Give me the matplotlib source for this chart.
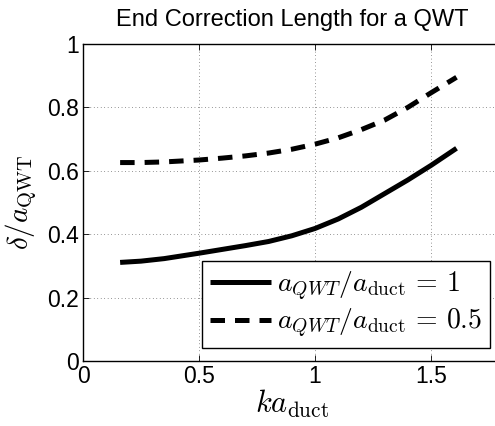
import matplotlib
matplotlib.use("Agg")
import matplotlib.pyplot as plt

# values
ka = [0.16, 0.25, 0.35, 0.5, 0.6, 0.7, 0.8, 0.9, 1.0, 1.1, 1.2, 1.3, 1.4, 1.5, 1.61]
ratio_1 = [0.311, 0.315, 0.323, 0.340, 0.352, 0.364, 0.377, 0.395, 0.418, 0.448,
           0.485, 0.528, 0.571, 0.617, 0.671]
ratio_05 = [0.626, 0.626, 0.628, 0.634, 0.640, 0.647, 0.656, 0.668, 0.684, 0.704,
            0.730, 0.760, 0.800, 0.846, 0.895]

labels = [r"$a_{QWT}/a_{\mathrm{duct}}\,=\,1$", r"$a_{QWT}/a_{\mathrm{duct}}\,=\,0.5$"]
xticks = [0, 0.5, 1, 1.5]
yticks = [0, 0.2, 0.4, 0.6, 0.8, 1]

plt.rcParams["font.family"] = ["Liberation Sans", "DejaVu Sans"]
plt.rcParams["mathtext.fontset"] = "cm"

fig = plt.figure(figsize=(4.95, 4.26), dpi=100)
ax = fig.add_axes([83 / 495, 65 / 426, 417.6 / 495, 317 / 426])

ax.plot(ka, ratio_1, color="black", lw=3.6, solid_capstyle="butt", label=labels[0])
ax.plot(ka, ratio_05, color="black", lw=3.6, dashes=(2.9, 2.0), dash_capstyle="butt", label=labels[1])

ax.set_xlim(0, 1.8)
ax.set_ylim(0, 1)
ax.set_xticks(xticks)
ax.set_xticklabels(["0", "0.5", "1", "1.5"])
ax.set_yticks(yticks)
ax.set_yticklabels(["0", "0.2", "0.4", "0.6", "0.8", "1"])
ax.tick_params(direction="in", labelsize=16.5, top=True, length=4, width=0.6, pad=3)
ax.grid(True, color="black", linestyle=(0, (1, 4)), linewidth=0.5, alpha=0.8)
ax.spines["right"].set_visible(False)
for s in ax.spines.values():
    s.set_linewidth(1.0)

ax.set_title("End Correction Length for a QWT", fontsize=17, pad=13)
ax.set_xlabel(r"$ka_{\mathrm{duct}}$", fontsize=22, labelpad=0)
ax.set_ylabel(r"$\delta/a_{\mathrm{QWT}}$", fontsize=21, labelpad=6)

leg = ax.legend(loc="lower right", bbox_to_anchor=(0.975, 0.04), borderaxespad=0,
                fontsize=20, fancybox=False, framealpha=1, edgecolor="black",
                handlelength=2.2, handletextpad=0.2, borderpad=0.3, labelspacing=0.15)
leg.get_frame().set_linewidth(1.0)

fig.savefig("out.png", dpi=100)
